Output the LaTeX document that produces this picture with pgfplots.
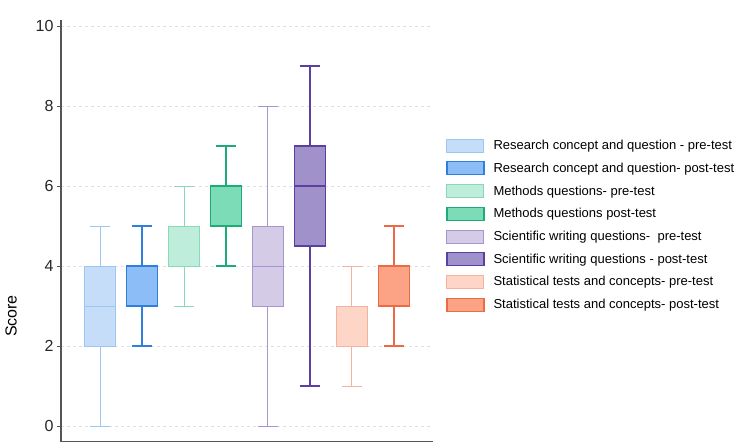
\documentclass[border=0pt]{standalone}
\usepackage{fontspec}
\setmainfont{Liberation Sans}
\usepackage{pgfplots}
\pgfplotsset{compat=1.18}
\usepgfplotslibrary{statistics}

% fill / edge colours for each group
\definecolor{rpreF}{HTML}{C6DDFA}\definecolor{rpreE}{HTML}{9CC7F0}
\definecolor{rpostF}{HTML}{8DBDF7}\definecolor{rpostE}{HTML}{2F7FDE}
\definecolor{mpreF}{HTML}{BEEEDB}\definecolor{mpreE}{HTML}{8AD8BA}
\definecolor{mpostF}{HTML}{7CDCB8}\definecolor{mpostE}{HTML}{1DAB78}
\definecolor{spreF}{HTML}{D4CBE7}\definecolor{spreE}{HTML}{A895CF}
\definecolor{spostF}{HTML}{A191CB}\definecolor{spostE}{HTML}{5A40A2}
\definecolor{tpreF}{HTML}{FDD6C7}\definecolor{tpreE}{HTML}{F5B29C}
\definecolor{tpostF}{HTML}{FCA386}\definecolor{tpostE}{HTML}{EC6A45}
\definecolor{axisgray}{HTML}{555555}

\begin{document}
\begin{tikzpicture}
\path (0,0) rectangle (744pt,445pt);
\begin{axis}[
  at={(61pt,3.3pt)}, anchor=south west,
  scale only axis, width=372pt, height=421.7pt,
  xmin=0.07, xmax=8.93, ymin=-0.39, ymax=10.15,
  axis x line*=bottom, axis y line*=left,
  axis line style={axisgray, line width=1.1pt, -},
  xtick=\empty,
  ytick={0,2,...,10},
  tick align=outside, major tick length=4pt,
  tick style={axisgray, line width=0.9pt},
  ymajorgrids, grid style={dashed, black!12, line width=0.8pt},
  tick label style={font=\fontsize{16}{18}\selectfont, text=black!85},
  /pgf/number format/assume math mode=true,
  ylabel={Score},
  ylabel style={at={(axis description cs:-0.134,0.298)}, anchor=center, font=\fontsize{16}{18}\selectfont},
  boxplot/draw direction=y,
  boxplot/box extend=0.73,
  boxplot/whisker extend=0.48,
  legend image code/.code={\draw[#1] (0pt,-6.5pt) rectangle (37pt,6.5pt);},
  legend style={at={(1.027,0.725)}, anchor=north west, draw=none, fill=none,
    font=\fontsize{13}{15}\selectfont, row sep=7.8pt,
    /tikz/every odd column/.append style={column sep=7pt}},
  legend cell align=left,
]
% box plots: lower whisker, lower quartile, median, upper quartile, upper whisker
\addplot+[forget plot, boxplot prepared={draw position=1, lower whisker=0, lower quartile=2, median=3, upper quartile=4, upper whisker=5},
  draw=rpreE, fill=rpreF, line width=1pt, mark=none, solid] coordinates {};
\addplot+[forget plot, boxplot prepared={draw position=2, lower whisker=2, lower quartile=3, median=4, upper quartile=4, upper whisker=5},
  draw=rpostE, fill=rpostF, line width=1.3pt, mark=none, solid] coordinates {};
\addplot+[forget plot, boxplot prepared={draw position=3, lower whisker=3, lower quartile=4, median=4, upper quartile=5, upper whisker=6},
  draw=mpreE, fill=mpreF, line width=1pt, mark=none, solid] coordinates {};
\addplot+[forget plot, boxplot prepared={draw position=4, lower whisker=4, lower quartile=5, median=5, upper quartile=6, upper whisker=7},
  draw=mpostE, fill=mpostF, line width=1.3pt, mark=none, solid] coordinates {};
\addplot+[forget plot, boxplot prepared={draw position=5, lower whisker=0, lower quartile=3, median=4, upper quartile=5, upper whisker=8},
  draw=spreE, fill=spreF, line width=1pt, mark=none, solid] coordinates {};
\addplot+[forget plot, boxplot prepared={draw position=6, lower whisker=1, lower quartile=4.5, median=6, upper quartile=7, upper whisker=9},
  draw=spostE, fill=spostF, line width=1.3pt, mark=none, solid] coordinates {};
\addplot+[forget plot, boxplot prepared={draw position=7, lower whisker=1, lower quartile=2, median=2, upper quartile=3, upper whisker=4},
  draw=tpreE, fill=tpreF, line width=1pt, mark=none, solid] coordinates {};
\addplot+[forget plot, boxplot prepared={draw position=8, lower whisker=2, lower quartile=3, median=4, upper quartile=4, upper whisker=5},
  draw=tpostE, fill=tpostF, line width=1.3pt, mark=none, solid] coordinates {};

\addlegendimage{draw=rpreE, fill=rpreF, line width=1pt}
\addlegendentry{Research concept and question - pre-test}
\addlegendimage{draw=rpostE, fill=rpostF, line width=1.3pt}
\addlegendentry{Research concept and question- post-test}
\addlegendimage{draw=mpreE, fill=mpreF, line width=1pt}
\addlegendentry{Methods questions- pre-test}
\addlegendimage{draw=mpostE, fill=mpostF, line width=1.3pt}
\addlegendentry{Methods questions post-test}
\addlegendimage{draw=spreE, fill=spreF, line width=1pt}
\addlegendentry{Scientific writing questions-\ \ pre-test}
\addlegendimage{draw=spostE, fill=spostF, line width=1.3pt}
\addlegendentry{Scientific writing questions - post-test}
\addlegendimage{draw=tpreE, fill=tpreF, line width=1pt}
\addlegendentry{Statistical tests and concepts- pre-test}
\addlegendimage{draw=tpostE, fill=tpostF, line width=1.3pt}
\addlegendentry{Statistical tests and concepts- post-test}
\end{axis}
\end{tikzpicture}
\end{document}
